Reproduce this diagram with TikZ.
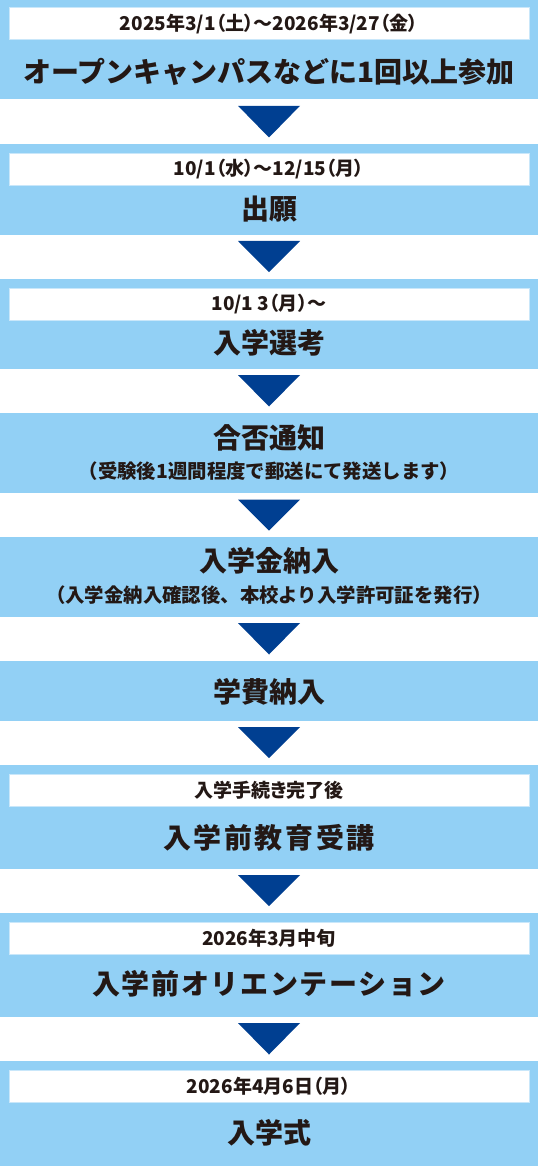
\documentclass[tikz,border=0pt]{standalone}
\usepackage{fontspec}
\setmainfont{Noto Sans CJK JP}
\definecolor{bandblue}{RGB}{146,208,245}
\definecolor{arrowblue}{RGB}{0,63,145}
\definecolor{inktext}{RGB}{35,24,21}
\begin{document}
\begin{tikzpicture}[x=1pt,y=-1pt,
	band/.style={fill=bandblue,minimum width=538pt,inner sep=0pt,outer sep=0pt},
	datebar/.style={fill=white,draw=bandblue!50,line width=0.6pt,minimum width=520pt,minimum height=32pt,inner sep=0pt,text=inktext,font=\fontsize{19}{19}\selectfont\bfseries\addfontfeatures{RawFeature=+palt}},
	title/.style={inner sep=0pt,text=inktext,font=\fontsize{28}{28}\selectfont\bfseries},
	note/.style={inner sep=0pt,text=inktext,font=\fontsize{19.4}{19.4}\selectfont\bfseries},
	down/.style={fill=arrowblue}]
	\useasboundingbox (0,0) rectangle (538,1166);
	\node[band,minimum height=99.5pt] (s1) at (269,49.75) {};
	\node[band,minimum height=90.7pt] (s2) at (269,189.35) {};
	\node[band,minimum height=90pt] (s3) at (269,323.7) {};
	\node[band,minimum height=80.3pt] (s4) at (269,453.15) {};
	\node[band,minimum height=79.7pt] (s5) at (269,576.85) {};
	\node[band,minimum height=59.7pt] (s6) at (269,690.85) {};
	\node[band,minimum height=104pt] (s7) at (269,816.7) {};
	\node[band,minimum height=104pt] (s8) at (269,964.7) {};
	\node[band,minimum height=105pt] (s9) at (269,1113.5) {};
	\node[datebar] (d1) at (269,23.7) {2025年3/1（土）～2026年3/27（金）};
	\node[datebar] (d2) at (269,169) {10/1（水）～12/15（月）};
	\node[datebar] (d3) at (269,303.8) {10/1 3（月）～};
	\node[datebar] (d7) at (269,790) {入学手続き完了後};
	\node[datebar] (d8) at (269,937.8) {2026年3月中旬};
	\node[datebar] (d9) at (269,1086) {2026年4月6日（月）};
	\node[title] (t1) at (269,71.5) {オープンキャンパスなどに1回以上参加};
	\node[title] (t2) at (269,209.5) {出願};
	\node[title] (t3) at (269,343.3) {入学選考};
	\node[title] (t4) at (269,438) {合否通知};
	\node[note] (n4) at (269,471.5) {（受験後1週間程度で郵送にて発送します）};
	\node[title] (t5) at (269,561) {入学金納入};
	\node[note] (n5) at (269,595) {（入学金納入確認後、本校より入学許可証を発行）};
	\node[title] (t6) at (269,691.5) {学費納入};
	\node[title,font=\fontsize{28}{28}\selectfont\bfseries\addfontfeatures{LetterSpace=9}] (t7) at (269,837.5) {入学前教育受講};
	\node[title,font=\fontsize{28}{28}\selectfont\bfseries\addfontfeatures{LetterSpace=6}] (t8) at (269,984) {入学前オリエンテーション};
	\node[title] (t9) at (269,1132.5) {入学式};
	\fill[down] ([xshift=-31pt,yshift=-6.3pt]s1.south) -- ([xshift=31pt,yshift=-6.3pt]s1.south) -- ([yshift=6.5pt]s2.north) -- cycle;
	\fill[down] ([xshift=-31pt,yshift=-6.3pt]s2.south) -- ([xshift=31pt,yshift=-6.3pt]s2.south) -- ([yshift=6.5pt]s3.north) -- cycle;
	\fill[down] ([xshift=-31pt,yshift=-6.3pt]s3.south) -- ([xshift=31pt,yshift=-6.3pt]s3.south) -- ([yshift=6.5pt]s4.north) -- cycle;
	\fill[down] ([xshift=-31pt,yshift=-6.3pt]s4.south) -- ([xshift=31pt,yshift=-6.3pt]s4.south) -- ([yshift=6.5pt]s5.north) -- cycle;
	\fill[down] ([xshift=-31pt,yshift=-6.3pt]s5.south) -- ([xshift=31pt,yshift=-6.3pt]s5.south) -- ([yshift=6.5pt]s6.north) -- cycle;
	\fill[down] ([xshift=-31pt,yshift=-6.3pt]s6.south) -- ([xshift=31pt,yshift=-6.3pt]s6.south) -- ([yshift=6.5pt]s7.north) -- cycle;
	\fill[down] ([xshift=-31pt,yshift=-6.3pt]s7.south) -- ([xshift=31pt,yshift=-6.3pt]s7.south) -- ([yshift=6.5pt]s8.north) -- cycle;
	\fill[down] ([xshift=-31pt,yshift=-6.3pt]s8.south) -- ([xshift=31pt,yshift=-6.3pt]s8.south) -- ([yshift=6.5pt]s9.north) -- cycle;
\end{tikzpicture}
\end{document}
